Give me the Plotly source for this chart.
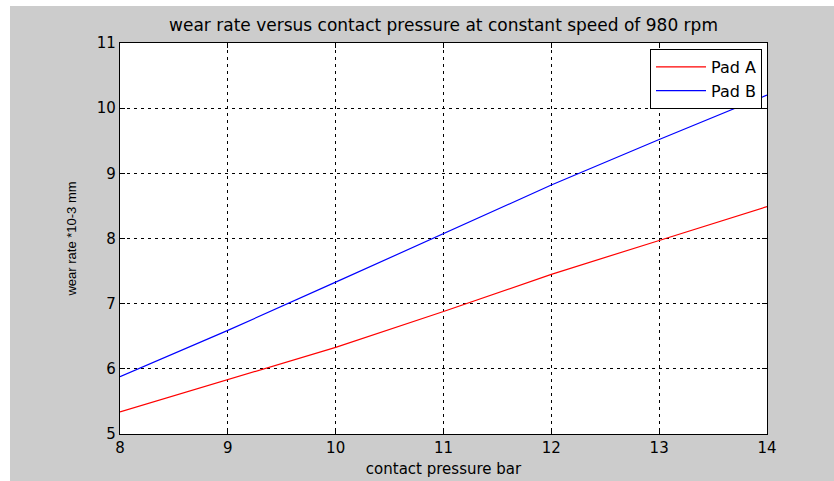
import plotly.graph_objects as go

pressure = [8, 9, 10, 11, 12, 13, 14]
pad_a = [5.34, 5.84, 6.33, 6.88, 7.45, 7.97, 8.49]
pad_b = [5.88, 6.59, 7.33, 8.07, 8.82, 9.52, 10.20]
x_ticks = [8, 9, 10, 11, 12, 13, 14]
y_ticks = [5, 6, 7, 8, 9, 10, 11]

W, H = 834, 481
L, R, T, B = 120, 67, 43, 47
pw, ph = W - L - R, H - T - B

fig = go.Figure()
fig.add_trace(go.Scatter(x=pressure, y=pad_a, mode="lines", name="Pad A",
                         line=dict(color="#ff0000", width=1.2)))
fig.add_trace(go.Scatter(x=pressure, y=pad_b, mode="lines", name="Pad B",
                         line=dict(color="#0000ff", width=1.2)))

axis_common = dict(
    showline=True, linecolor="black", linewidth=1.2, mirror="ticks",
    ticks="inside", ticklen=5, tickcolor="black",
    showgrid=True, gridcolor="black", gridwidth=1, griddash="3px,4px",
    zeroline=False, automargin=False,
    tickfont=dict(family="DejaVu Sans", size=15, color="black"),
)

fig.update_xaxes(range=[8, 14], tickvals=x_ticks,
                 title=dict(text="contact pressure bar", standoff=7,
                            font=dict(family="DejaVu Sans", size=15, color="black")),
                 **axis_common)
fig.update_yaxes(range=[5, 11], tickvals=y_ticks,
                 title=dict(text="wear rate *10-3 mm", standoff=17,
                            font=dict(family="Liberation Sans Narrow, Liberation Sans", size=13, color="black")),
                 **axis_common)

# white strips at top-left of the figure (image border)
fig.add_shape(type="rect", xref="paper", yref="paper", layer="below",
              x0=-L / pw, x1=(-L + 10) / pw, y0=-B / ph, y1=(ph + T) / ph,
              fillcolor="white", line=dict(width=0))
fig.add_shape(type="rect", xref="paper", yref="paper", layer="below",
              x0=-L / pw, x1=(pw + R) / pw, y0=(ph + T - 6) / ph, y1=(ph + T) / ph,
              fillcolor="white", line=dict(width=0))

fig.update_layout(
    width=W, height=H,
    margin=dict(l=L, r=R, t=T, b=B, autoexpand=False),
    paper_bgcolor="#cccccc", plot_bgcolor="white",
    title=dict(text="wear rate versus contact pressure at constant speed of 980 rpm",
               x=(L + pw / 2) / W, xanchor="center", y=1 - 25 / H, yanchor="middle",
               font=dict(family="DejaVu Sans", size=17, color="black")),
    showlegend=True,
    legend=dict(x=(762 - L) / pw, xanchor="right", y=1 - 6 / ph, yanchor="top",
                bgcolor="white", bordercolor="black", borderwidth=1,
                font=dict(family="DejaVu Sans", size=16, color="black"),
                itemwidth=50, tracegroupgap=0),
)

fig.write_html("out.html", config={"displayModeBar": False},
               post_script="document.body.style.margin='0';")
